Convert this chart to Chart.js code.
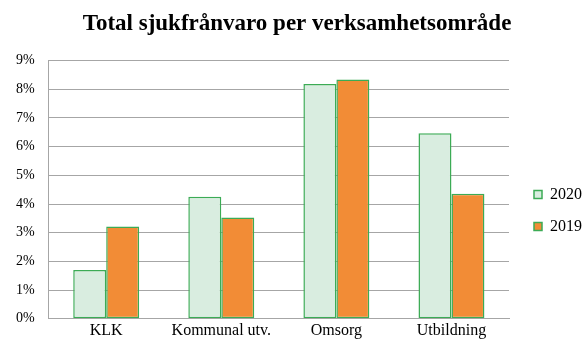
<!DOCTYPE html>
<html>
<head>
<meta charset="utf-8">
<script src="https://cdn.jsdelivr.net/npm/chart.js@4"></script>
<style>
  html, body { margin: 0; padding: 0; background: #fff; }
  #wrap { width: 582px; height: 342px; }
</style>
</head>
<body>
<div id="wrap"><canvas id="myChart"></canvas></div>
<script>
// sjukfrånvaro per område, i procent
const categories = ['KLK', 'Kommunal utv.', 'Omsorg', 'Utbildning'];
const values2020 = [1.70, 4.25, 8.18, 6.47];
const values2019 = [3.22, 3.53, 8.34, 4.36];
const yTicks = [0, 1, 2, 3, 4, 5, 6, 7, 8, 9];

const serif = '"Liberation Serif", "Times New Roman", serif';
const gridColor = '#a6a6a6';

const ctx = document.getElementById('myChart').getContext('2d');
const myChart = new Chart(ctx, {
    type: 'bar',
    data: {
        labels: categories,
        datasets: [{
            label: '2020',
            data: values2020,
            backgroundColor: '#d9ede0',
            borderColor: '#3cab55',
            borderWidth: 1.5,
            borderSkipped: false
        }, {
            label: '2019',
            data: values2019,
            backgroundColor: '#f28c36',
            borderColor: '#3cab55',
            borderWidth: 1.5,
            borderSkipped: false
        }]
    },
    options: {
        responsive: true,
        maintainAspectRatio: false,
        animation: false,
        layout: { padding: { left: 2, right: -10, top: 0, bottom: 0 } },
        datasets: {
            bar: { barPercentage: 1, categoryPercentage: 0.573 }
        },
        plugins: {
            title: {
                display: true,
                text: 'Total sjukfrånvaro per verksamhetsområde',
                color: '#000',
                font: { family: serif, size: 23, weight: 'bold' },
                padding: { top: 10, bottom: 23 }
            },
            legend: {
                position: 'right',
                align: 'start',
                // tom rubrik som skjuter ner förklaringen
                title: { display: true, text: '', padding: { top: 156, bottom: 0 } },
                labels: {
                    color: '#000',
                    font: { family: serif, size: 16 },
                    boxWidth: 8,
                    boxHeight: 8,
                    padding: 16
                }
            },
            tooltip: { enabled: false }
        },
        scales: {
            x: {
                grid: { display: false, drawTicks: false },
                border: { color: gridColor },
                ticks: { color: '#000', font: { family: serif, size: 16 }, padding: 2 }
            },
            y: {
                min: 0,
                max: 9,
                afterBuildTicks: (axis) => { axis.ticks = yTicks.map(v => ({ value: v })); },
                grid: { color: gridColor, drawTicks: false },
                border: { color: gridColor },
                ticks: {
                    color: '#000',
                    font: { family: serif, size: 14 },
                    padding: 14,
                    callback: (v) => v + '%'
                }
            },
            // tom axel till höger, bara som luft före förklaringen
            spacer: {
                type: 'linear',
                position: 'right',
                grid: { display: false, drawTicks: false },
                border: { display: false },
                ticks: { display: false },
                afterFit: (scale) => { scale.width = 9; }
            }
        }
    }
});
</script>
</body>
</html>
